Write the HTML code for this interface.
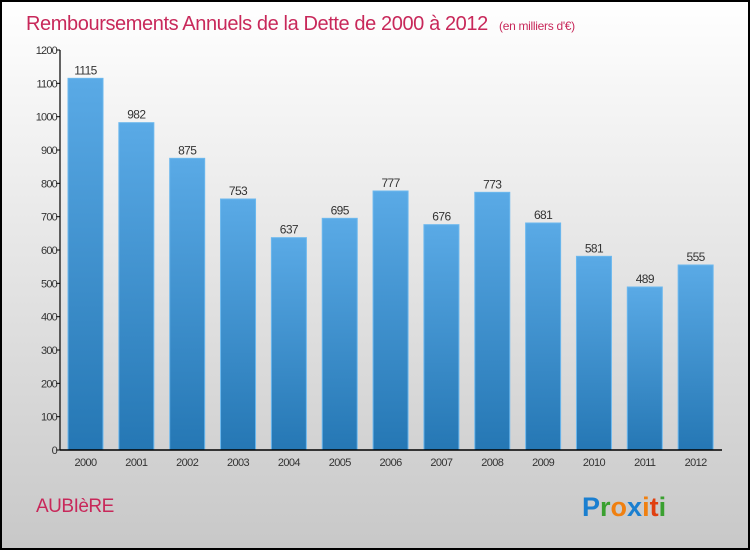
<!DOCTYPE html>
<html><head><meta charset="utf-8"><style>
body{margin:0;width:750px;height:550px;overflow:hidden;font-family:"Liberation Sans",sans-serif}
</style></head><body>
<svg id="c" width="750" height="550" xmlns="http://www.w3.org/2000/svg">
<defs>
<linearGradient id="bg" x1="0" y1="0" x2="0" y2="1"><stop offset="0" stop-color="#ffffff"/><stop offset="1" stop-color="#c8c8c8"/></linearGradient>
<linearGradient id="bar" x1="0" y1="0" x2="0" y2="1"><stop offset="0" stop-color="#5aaae6"/><stop offset="1" stop-color="#2577b4"/></linearGradient>
</defs>
<rect x="1" y="1" width="748" height="548" fill="url(#bg)" stroke="#000" stroke-width="2"/>
<text x="26" y="30" font-size="20" fill="#c8285a" letter-spacing="-0.4">Remboursements Annuels de la Dette de 2000 à 2012 <tspan font-size="12" dx="6" letter-spacing="-0.3">(en milliers d'€)</tspan></text>
<text x="36" y="512" font-size="19" fill="#c8285a" letter-spacing="-0.5">AUBIèRE</text>
<text x="582" y="516" font-size="27" font-weight="bold"><tspan fill="#1a7fd0">P</tspan><tspan fill="#3aa030">r</tspan><tspan fill="#f08010">o</tspan><tspan fill="#1a7fd0">x</tspan><tspan fill="#f08010">i</tspan><tspan fill="#e04010">t</tspan><tspan fill="#3aa030">i</tspan></text>
<g id="plot"></g>
</svg>
<script>
const categories=["2000","2001","2002","2003","2004","2005","2006","2007","2008","2009","2010","2011","2012"];
const values=[1115,982,875,753,637,695,777,676,773,681,581,489,555];
const ticks=[0,100,200,300,400,500,600,700,800,900,1000,1100,1200];
const NS="http://www.w3.org/2000/svg";
const g=document.getElementById('plot');
const x0=60,x1=722,y0=450,y1=50,ymax=1200;
const band=(x1-x0-1)/categories.length;
const y=v=>y0-(v/ymax)*(y0-y1);
function mk(t,a,txt){const e=document.createElementNS(NS,t);for(const k in a)e.setAttribute(k,a[k]);if(txt!==undefined)e.textContent=txt;g.appendChild(e);return e;}
ticks.forEach(t=>{
 const l=mk('line',{x1:x0-4,x2:x0,y1:y(t),y2:y(t),stroke:'#000'});
 
 
 const tx=mk('text',{x:x0-3,y:y(t)+4,'font-size':11,'text-anchor':'end',fill:'#333','letter-spacing':'-0.8'},t);
 
 
});
categories.forEach((c,i)=>{
 const bx=x0+band*i+8,bw=35,v=values[i];
 const r=mk('rect',{x:bx,y:y(v),width:bw,height:y0-y(v),fill:'url(#bar)',stroke:'#6cb8ee','stroke-width':1});
 
 
 const vl=mk('text',{x:bx+bw/2,y:y(v)-4,'font-size':12,'text-anchor':'middle',fill:'#333','letter-spacing':'-0.6'},v);
 
 
 const xl=mk('text',{x:bx+bw/2,y:y0+16,'font-size':11,'text-anchor':'middle',fill:'#333','letter-spacing':'-0.6'},c);
 
 
});
const ya=mk('line',{x1:x0,x2:x0,y1:y1,y2:y0,stroke:'#000','stroke-width':1.2});


const xa=mk('line',{x1:x0,x2:x1,y1:y0,y2:y0,stroke:'#000','stroke-width':1.5});


</script>
</body></html>
